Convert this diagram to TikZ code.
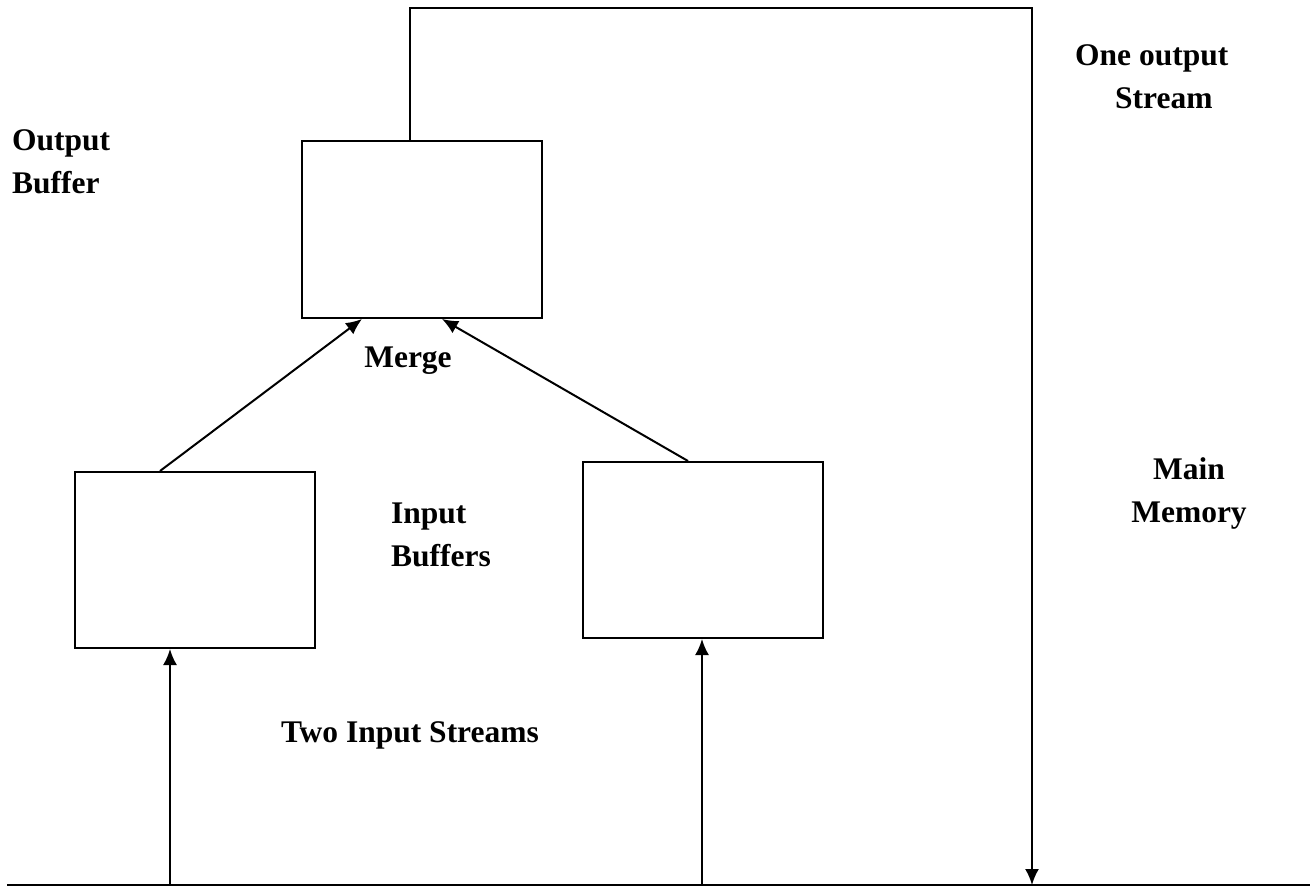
\documentclass[tikz,border=0pt]{standalone}
\usepackage{fontspec}
\setmainfont{Liberation Serif}
\usetikzlibrary{arrows.meta,calc}
\begin{document}
\begin{tikzpicture}[x=1pt,y=-1pt,
  buf/.style={draw,line width=2pt,minimum width=240pt,minimum height=177pt,inner sep=0pt,anchor=north west},
  conn/.style={line width=2pt,-{Latex[length=16pt,width=14pt]}},
  lbl/.style={font=\fontsize{31.5}{43}\selectfont\bfseries,inner sep=0pt}]
\useasboundingbox (0,0) rectangle (1315,888);
% boxes
\node[buf] (ob) at (301,140) {};
\node[buf,minimum height=176pt] (lb) at (74,471) {};
\node[buf,minimum height=176pt] (rb) at (582,461) {};
% floor line
\coordinate (fl) at (7,885);
\coordinate (fr) at (1310,885);
\draw[line width=2.6pt] (fl) -- (fr);
% input streams
\coordinate (inL) at (170,885);
\coordinate (inR) at (702,885);
\draw[conn] (inL) -- (inL |- lb.south);
\draw[conn] (inR) -- (inR |- rb.south);
% merge arrows
\draw[conn] ($(lb.north west)+(86,0)$) -- ($(ob.south west)+(61,0)$);
\draw[conn] ($(rb.north west)+(106,0)$) -- ($(ob.south west)+(141,0)$);
% output stream
\coordinate (tl) at (410,8);
\coordinate (tr) at (1032,8);
\coordinate (ob1) at ($(ob.north west)+(109,0)$);
\draw[conn] (ob1) -- (tl) -- (tr) -- (tr |- fr);
% labels
\node[lbl,anchor=west,align=left] (tob) at (12,162) {Output\\Buffer};
\node[lbl,anchor=west,align=left] (tos) at (1075,77) {One output\\\hspace*{40pt}Stream};
\node[lbl] (tm) at (408,361) {Merge};
\node[lbl,anchor=west,align=left] (tib) at (391,535) {Input\\Buffers};
\node[lbl,align=center] (tmm) at (1189,493) {Main\\Memory};
\node[lbl] (tis) at (410,735) {Two Input Streams};
\end{tikzpicture}
\end{document}
